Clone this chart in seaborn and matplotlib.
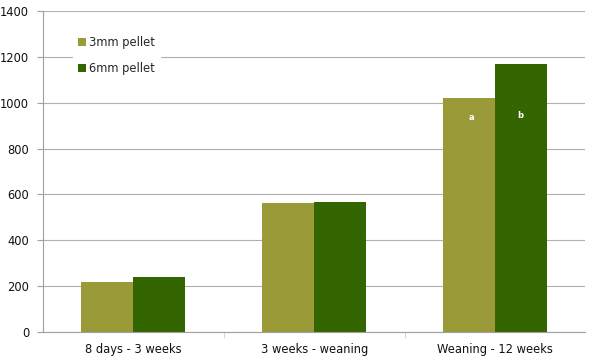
import pandas as pd
import matplotlib
matplotlib.use("Agg")
import matplotlib.pyplot as plt
import seaborn as sns

categories = ["8 days - 3 weeks", "3 weeks - weaning", "Weaning - 12 weeks"]
pellet_3mm = [218, 562, 1020]
pellet_6mm = [242, 567, 1167]
series_names = ["3mm pellet", "6mm pellet"]
colors = ["#9a9a38", "#336600"]
bar_letters = {2: ("a", "b")}
letter_y = 935

df = pd.DataFrame({
    "period": categories * 2,
    "value": pellet_3mm + pellet_6mm,
    "series": [series_names[0]] * 3 + [series_names[1]] * 3,
})

sns.set_style("white")
plt.rcParams["font.family"] = ["DejaVu Sans"]

fig, ax = plt.subplots(figsize=(5.9, 3.61), dpi=100)
fig.subplots_adjust(left=0.073, right=0.992, top=0.97, bottom=0.08)

sns.barplot(data=df, x="period", y="value", hue="series", palette=colors,
            width=0.575, gap=0, saturation=1, ax=ax, edgecolor="none")

ax.set_ylim(0, 1400)
ax.set_yticks(range(0, 1401, 200))
ax.set_xlim(-0.5, 2.5)
ax.grid(axis="y", color="#b0b0b0", linewidth=0.8)
ax.set_axisbelow(True)
ax.set_xlabel("")
ax.set_ylabel("")
for s in ["top", "right"]:
    ax.spines[s].set_visible(False)
for s in ["left", "bottom"]:
    ax.spines[s].set_color("#a0a0a0")
    ax.spines[s].set_linewidth(0.8)

ax.tick_params(axis="y", length=4, color="#a0a0a0", labelsize=8.3, pad=6, left=True,
               labelcolor="#111111")
ax.tick_params(axis="x", length=0, labelsize=8.3, pad=8, labelcolor="#111111")
ax.set_xticks([0.5, 1.5], minor=True)
ax.tick_params(axis="x", which="minor", length=4, color="#d0d0d0", bottom=True)

for i, (la, lb) in bar_letters.items():
    ax.text(i - 0.13, letter_y, la, color="white", ha="center", va="center",
            fontsize=6, fontweight="bold")
    ax.text(i + 0.14, letter_y + 10, lb, color="white", ha="center", va="center",
            fontsize=6, fontweight="bold")

leg = ax.legend(loc="upper left", bbox_to_anchor=(0.045, 0.955), frameon=True,
                fontsize=8.3, handlelength=0.7, handleheight=0.7, handletextpad=0.3,
                labelspacing=1.2, borderpad=0.4)
leg.get_frame().set_edgecolor("white")
leg.get_frame().set_facecolor("white")
leg.get_frame().set_alpha(1)

fig.savefig("out.png", dpi=100)
